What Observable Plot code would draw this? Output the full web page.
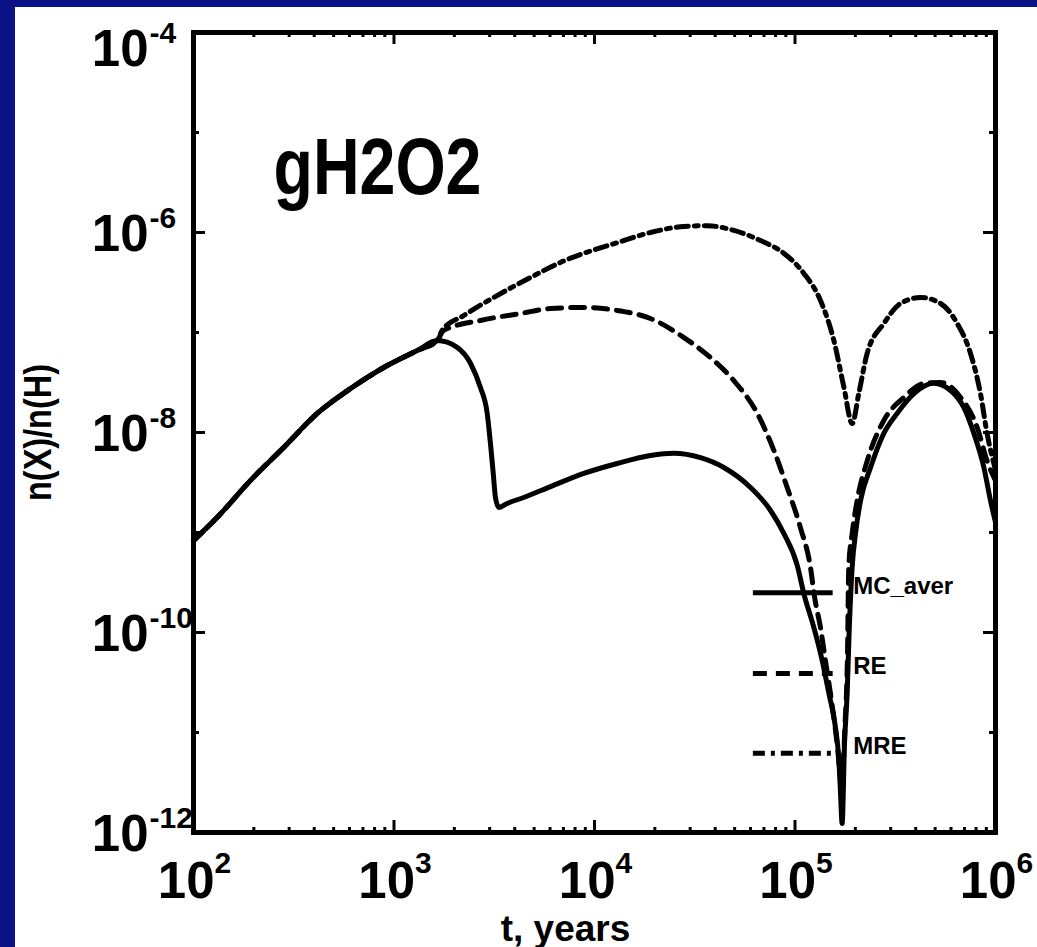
<!DOCTYPE html>
<html><head><meta charset="utf-8">
<script src="https://cdn.jsdelivr.net/npm/d3@7"></script>
<script src="https://cdn.jsdelivr.net/npm/@observablehq/plot@0.6"></script>
<style>
html,body{margin:0;padding:0;background:#0a1386;width:1037px;height:947px;overflow:hidden;}
#panel{position:absolute;left:15px;top:7px;width:1022px;height:940px;background:#fff;}
svg{display:block;}
</style></head><body><div id="panel"></div>
<script>
// ---- data ----
const tMC = [100,131,192,282,414,607,889,1306,1641,2065,2410,2698,2917,3027,3126,3206,3334,3664,4436,6039,8851,12970,19010,24890,33810,44160,59980,75510,87900,102600,110700,124200,136800,147600,159200,165600,168700,171800,176600,182000,186200,192800,200400,212300,238200,277300,322800,391700,492000,597000,695000,780000,875000,944000,1000000];
const mcAver = [8.3e-10,1.41e-9,3.3e-9,7.1e-9,1.55e-8,2.75e-8,4.47e-8,6.6e-8,8.3e-8,7.1e-8,4.9e-8,2.82e-8,1.55e-8,7.8e-9,3.9e-9,2.24e-9,1.78e-9,1.95e-9,2.24e-9,2.88e-9,3.9e-9,4.9e-9,5.9e-9,6.2e-9,5.6e-9,4.47e-9,2.82e-9,1.66e-9,9.8e-10,4.7e-10,2.45e-10,1.12e-10,5.2e-11,2.45e-11,1.12e-11,5.2e-12,2.45e-12,1.23e-12,7.8e-12,2.45e-11,1.0e-10,4.5e-10,9.8e-10,2.09e-9,4.47e-9,9.8e-9,1.55e-8,2.45e-8,3.1e-8,2.63e-8,1.78e-8,9.8e-9,4.47e-9,2.09e-9,1.26e-9];

const tRE = [100,131,192,282,414,607,889,1306,1641,1770,2698,4276,6039,8851,12970,19010,27930,37930,49550,64860,78520,91410,106400,119400,125300,134000,141900,150300,162200,170600,177800,182800,185400,192800,204200,229100,277300,349100,439500,532100,669900,811000,907800,1000000];
const re = [8.3e-10,1.41e-9,3.3e-9,7.1e-9,1.55e-8,2.75e-8,4.47e-8,6.6e-8,8.3e-8,1.05e-7,1.32e-7,1.55e-7,1.74e-7,1.78e-7,1.66e-7,1.38e-7,8.9e-8,5.6e-8,3.3e-8,1.55e-8,6.6e-9,2.82e-9,1.12e-9,4.5e-10,2.24e-10,1.12e-10,5.2e-11,2.45e-11,7.8e-12,3.2e-12,1.26e-11,6.3e-11,4.5e-10,9.8e-10,2.09e-9,5.2e-9,1.32e-8,2.24e-8,3.1e-8,3.16e-8,2.24e-8,1.12e-8,5.2e-9,3.3e-9];

const tMRE = [100,131,192,282,414,607,889,1306,1641,1738,2228,3266,4797,7031,8851,12970,19010,27930,36480,49550,67300,87900,110700,134000,156300,175400,192800,208000,229100,277300,335700,422700,532100,644200,749900,841400,907800,1000000];
const mre = [8.3e-10,1.41e-9,3.3e-9,7.1e-9,1.55e-8,2.75e-8,4.47e-8,6.6e-8,8.3e-8,1.05e-7,1.48e-7,2.34e-7,3.55e-7,5.2e-7,6.2e-7,7.9e-7,1.0e-6,1.15e-6,1.17e-6,1.05e-6,8.3e-7,6.2e-7,3.9e-7,2.09e-7,8.3e-8,2.82e-8,1.23e-8,2.45e-8,6.2e-8,1.23e-7,1.95e-7,2.24e-7,1.95e-7,1.23e-7,6.2e-8,2.45e-8,9.8e-9,4.2e-9];

const xMajor = [1e2, 1e3, 1e4, 1e5, 1e6];
const xExp = ["2", "3", "4", "5", "6"];
const xMinor = [200,300,400,500,600,700,800,900,2000,3000,4000,5000,6000,7000,8000,9000,20000,30000,40000,50000,60000,70000,80000,90000,200000,300000,400000,500000,600000,700000,800000,900000];
const yMajor = [1e-12, 1e-10, 1e-8, 1e-6, 1e-4];
const yExp = ["-12", "-10", "-8", "-6", "-4"];
const yMinor = [1e-11, 1e-9, 1e-7, 1e-5];

const seriesNames = ["MC_aver", "RE", "MRE"];
const titleText = "gH2O2";
const xLabel = "t, years";
const yLabel = "n(X)/n(H)";

// ---- layout ----
const W = 1022, H = 940;
const mL = 178, mR = 42, mT = 25, mB = 115;
const pw = W - mL - mR, ph = H - mT - mB;
const legendX = [6.2e4, 1.55e5];
const legendTextX = 1.95e5;
const legendY = [2.5e-10, 3.9e-11, 6.2e-12];

const mcRows = tMC.map((t, i) => ({t, v: mcAver[i]}));
const reRows = tRE.map((t, i) => ({t, v: re[i]}));
const mreRows = tMRE.map((t, i) => ({t, v: mre[i]}));
const legendRows = seriesNames.map((k, i) => ({k, y: legendY[i]}));
const yLabRows = yMajor.map((v, i) => ({v, e: yExp[i]}));
const yLabTop = yLabRows.filter(d => d.v === 1e-4);
const yLabRest = yLabRows.filter(d => d.v !== 1e-4);

const dashes = [null, "14,9", "12,6,4,6"];
const lw = 5;
const bold = {fontWeight: "bold"};

function yTickLabels(rows, shift) {
  return [
    Plot.text(rows, {y: "v", frameAnchor: "left", text: () => "10", textAnchor: "end", lineAnchor: "bottom", dx: -45, dy: 18 + shift, fontSize: 51, ...bold}),
    Plot.text(rows, {y: "v", frameAnchor: "left", text: "e", textAnchor: "start", lineAnchor: "bottom", dx: -44, dy: -5 + shift, fontSize: 30, ...bold})
  ];
}

const plot = Plot.plot({
  width: W, height: H,
  marginLeft: mL, marginRight: mR, marginTop: mT, marginBottom: mB,
  x: {type: "log", domain: [1e2, 1e6], axis: null},
  y: {type: "log", domain: [1e-12, 1e-4], axis: null},
  style: {fontFamily: "'Liberation Sans', Arial, Helvetica, sans-serif", background: "white", color: "black", overflow: "visible"},
  marks: [
    Plot.line(mcRows, {x: "t", y: "v", stroke: "black", strokeWidth: lw, curve: "monotone-x"}),
    Plot.line(reRows, {x: "t", y: "v", stroke: "black", strokeWidth: lw, strokeDasharray: dashes[1], curve: "monotone-x"}),
    Plot.line(mreRows, {x: "t", y: "v", stroke: "black", strokeWidth: lw, strokeDasharray: dashes[2], curve: "monotone-x"}),
    // ticks (inward)
    Plot.ruleX(xMinor, {x: d => d, insetTop: ph - 5, stroke: "black", strokeWidth: 3}),
    Plot.ruleX(xMinor, {x: d => d, insetBottom: ph - 5, stroke: "black", strokeWidth: 3}),
    Plot.ruleX(xMajor, {x: d => d, insetTop: ph - 12, stroke: "black", strokeWidth: 3}),
    Plot.ruleX(xMajor, {x: d => d, insetBottom: ph - 12, stroke: "black", strokeWidth: 3}),
    Plot.ruleY(yMajor, {y: d => d, insetRight: pw - 12, stroke: "black", strokeWidth: 3}),
    Plot.ruleY(yMajor, {y: d => d, insetLeft: pw - 12, stroke: "black", strokeWidth: 3}),
    Plot.ruleY(yMinor, {y: d => d, insetRight: pw - 6, stroke: "black", strokeWidth: 3}),
    Plot.ruleY(yMinor, {y: d => d, insetLeft: pw - 6, stroke: "black", strokeWidth: 3}),
    Plot.frame({stroke: "black", strokeWidth: 5}),
    // x tick labels
    Plot.text(xMajor, {x: d => d, frameAnchor: "bottom", text: () => "10", textAnchor: "end", lineAnchor: "bottom", dx: 21, dy: 65, fontSize: 51, ...bold}),
    Plot.text(xMajor, {x: d => d, frameAnchor: "bottom", text: (d, i) => xExp[i], textAnchor: "start", lineAnchor: "bottom", dx: 21, dy: 40, fontSize: 30, ...bold}),
    // y tick labels
    ...yTickLabels(yLabRest, 0),
    ...yTickLabels(yLabTop, 15),
    // title
    Plot.text([titleText], {text: d => d, frameAnchor: "top-left", textAnchor: "start", lineAnchor: "bottom", dx: 80, dy: 161, fontSize: 80, ...bold}),
    // axis labels
    Plot.text([xLabel], {text: d => d, frameAnchor: "bottom", textAnchor: "middle", lineAnchor: "bottom", dx: -29, dy: 108, fontSize: 37, ...bold}),
    Plot.text([yLabel], {text: d => d, frameAnchor: "left", textAnchor: "middle", lineAnchor: "bottom", rotate: -90, dx: -143, fontSize: 38, ...bold}),
    // legend
    Plot.ruleY(legendRows.slice(0, 1), {y: "y", x1: legendX[0], x2: legendX[1], stroke: "black", strokeWidth: lw}),
    Plot.ruleY(legendRows.slice(1, 2), {y: "y", x1: legendX[0], x2: legendX[1], stroke: "black", strokeWidth: lw, strokeDasharray: dashes[1]}),
    Plot.ruleY(legendRows.slice(2, 3), {y: "y", x1: legendX[0], x2: legendX[1], stroke: "black", strokeWidth: lw, strokeDasharray: dashes[2]}),
    Plot.text(legendRows, {x: legendTextX, y: "y", text: "k", textAnchor: "start", lineAnchor: "bottom", dy: 1, fontSize: 24, ...bold})
  ]
});

d3.select(plot).selectAll("text").each(function() {
  const t = this.textContent;
  if (t === titleText) { this.setAttribute("textLength", 208); this.setAttribute("lengthAdjust", "spacingAndGlyphs"); }
  if (t === yLabel) { this.setAttribute("textLength", 137); this.setAttribute("lengthAdjust", "spacingAndGlyphs"); }
});

document.getElementById("panel").appendChild(plot);
</script>
</body></html>
